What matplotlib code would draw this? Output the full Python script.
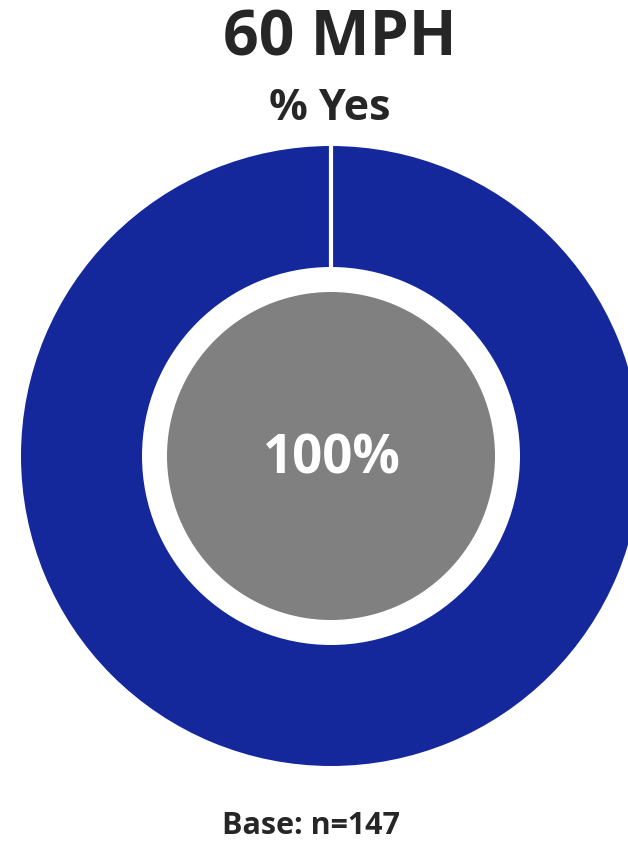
import matplotlib.pyplot as plt

# Данные
title = '60 MPH'
subtitle = '% Yes'
values = [100]
center_label = '100%'
base_label = 'Base: n=147'

ring_color = '#14289C'
core_color = '#808080'
text_color = '#262626'

plt.rcParams['font.family'] = ['Open Sans', 'DejaVu Sans']

fig = plt.figure(figsize=(6.28, 8.42), dpi=100)
ax = fig.add_axes([0, 0, 1, 1])

cx, cy = 331, 386
r_out, r_in, r_core = 310, 189, 164

# Внешнее кольцо
ax.pie(values, colors=[ring_color], radius=r_out, center=(cx, cy),
       startangle=90, counterclock=False,
       wedgeprops=dict(width=r_out - r_in, linewidth=0))
# Белый разделитель в начале сектора
ax.plot([cx, cx], [cy + r_in - 2, cy + r_out + 2], color='white',
        linewidth=3, solid_capstyle='butt')
# Серый центр
ax.pie(values, colors=[core_color], radius=r_core, center=(cx, cy),
       startangle=90, wedgeprops=dict(linewidth=0))

ax.set_xlim(0, 628)
ax.set_ylim(0, 842)
ax.set_aspect('equal')
ax.axis('off')

ax.text(cx + 1, cy - 4, center_label, color='white', fontsize=38,
        fontweight='bold', ha='center', va='center')
ax.text(340, 803, title, color=text_color, fontsize=45,
        fontweight='bold', ha='center', va='center')
ax.text(330, 733, subtitle, color=text_color, fontsize=31,
        fontweight='bold', ha='center', va='center')
ax.text(311, 16, base_label, color=text_color, fontsize=22,
        fontweight='bold', ha='center', va='center')

fig.savefig('out.png', dpi=100)
